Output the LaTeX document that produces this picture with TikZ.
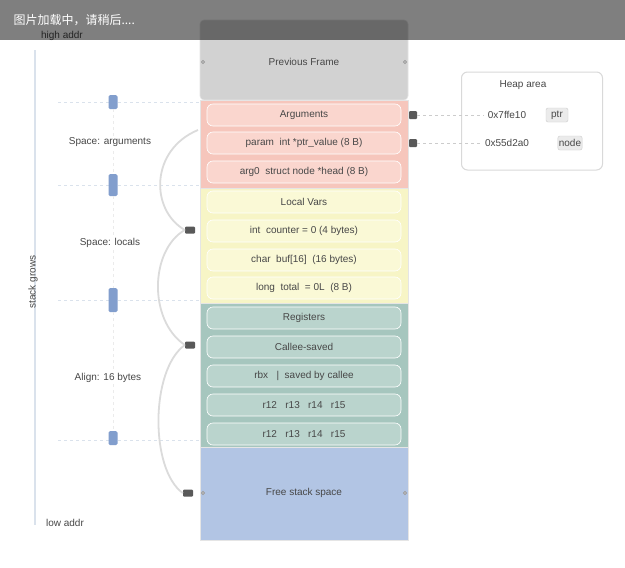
\documentclass[tikz,border=0pt]{standalone}
\usepackage{fontspec}
\setmainfont{Liberation Sans}
\newfontfamily\cjk{Noto Sans CJK SC}
\definecolor{cgray}{RGB}{210,210,210}
\definecolor{cred}{RGB}{246,198,188}
\definecolor{credrow}{RGB}{250,214,206}
\definecolor{cyel}{RGB}{247,245,198}
\definecolor{cyelrow}{RGB}{250,249,214}
\definecolor{cteal}{RGB}{166,198,190}
\definecolor{ctealrow}{RGB}{186,212,205}
\definecolor{cblue}{RGB}{178,197,228}
\definecolor{cmark}{RGB}{130,158,205}
\definecolor{caxis}{RGB}{218,226,236}
\begin{document}
\begin{tikzpicture}[x=1pt,y=-1pt,
  every node/.style={font=\fontsize{10}{12}\selectfont, text=black!72},
  sect/.style={draw=black!10, line width=0.6pt},
  rowbox/.style={rounded corners=6pt, minimum width=194pt, minimum height=22pt, draw=white!60, line width=0.6pt},
  dotm/.style={fill=black!65, rounded corners=1pt, minimum width=10pt, minimum height=7pt, inner sep=0pt},
  guide/.style={draw=caxis, dashed, line width=0.9pt},
  marker/.style={fill=cmark, rounded corners=1.5pt, minimum width=9pt, inner sep=0pt},
  curve/.style={draw=black!14, line width=1.8pt},
  link/.style={draw=black!20, dashed, line width=0.8pt},
  notch/.style={draw=black!40, fill=black!30, circle, inner sep=1.3pt}]
\useasboundingbox (0,0) rectangle (625,568);
\fill[white] (0,0) rectangle (625,568);
% column sections
\path[sect, fill=cgray, rounded corners=4pt] (200,20) rectangle (408,100);
\path[sect, fill=cred] (200,100) rectangle (408,188);
\path[sect, fill=cyel] (200,188) rectangle (408,303);
\path[sect, fill=cteal] (200,303) rectangle (408,447);
\path[sect, fill=cblue] (200,447) rectangle (408,540);
\node (g) at (304,62) {Previous Frame};
\node[notch] (gl) at (203,62) {};
\node[notch] (gr) at (405,62) {};
% red rows
\node[rowbox, fill=credrow] (r1) at (304,115) {Arguments};
\node[rowbox, fill=credrow] (r2) at (304,143) {param \ int *ptr\_value (8 B)};
\node[rowbox, fill=credrow] (r3) at (304,172) {arg0 \ struct node *head (8 B)};
% yellow rows
\node[rowbox, fill=cyelrow] (y1) at (304,202) {Local Vars};
\node[rowbox, fill=cyelrow] (y2) at (304,231) {int \ counter = 0 (4 bytes)};
\node[rowbox, fill=cyelrow] (y3) at (304,260) {char \ buf[16] \ (16 bytes)};
\node[rowbox, fill=cyelrow] (y4) at (304,288) {long \ total \ = 0L \ (8 B)};
% teal rows
\node[rowbox, fill=ctealrow] (t1) at (304,318) {Registers};
\node[rowbox, fill=ctealrow] (t2) at (304,347) {Callee-saved};
\node[rowbox, fill=ctealrow] (t3) at (304,376) {rbx \ \ | \ saved by callee};
\node[rowbox, fill=ctealrow] (t4) at (304,405) {r12 \ \ r13 \ \ r14 \ \ r15};
\node[rowbox, fill=ctealrow] (t5) at (304,434) {r12 \ \ r13 \ \ r14 \ \ r15};
% blue
\node (b) at (304,493) {Free stack space};
\node[notch] (bl) at (203,493) {};
\node[notch] (br) at (405,493) {};
% left axis
\coordinate (ax1) at (35,50);
\coordinate (ax2) at (35,525);
\draw[draw=caxis, line width=2.2pt] (ax1) -- (ax2);
\node[rotate=90] (axl) at (33,282) {stack grows};
\node (lo) at (65,523) {low addr};
\node (hi) at (62,36) {high addr};
% guides
\foreach \yy/\nm in {102/ga,185/gb,300/gc,440/gd}{
  \coordinate (\nm s) at (58,\yy);
  \coordinate (\nm e) at (200,\yy);
  \draw[guide] (\nm s) -- (\nm e);
}
\node[marker, minimum height=14pt] (m1) at (113,102) {};
\node[marker, minimum height=22pt] (m2) at (113,185) {};
\node[marker, minimum height=24pt] (m3) at (113,300) {};
\node[marker, minimum height=14pt] (m4) at (113,438) {};
\draw[draw=black!8, dashed] (m1) -- (m2);
\draw[draw=black!8, dashed] (m2) -- (m3);
\draw[draw=black!8, dashed] (m3) -- (m4);
% left labels
\node[fill=white, inner sep=1pt] (s1) at (110,142) {Space: arguments};
\node[fill=white, inner sep=1pt] (s2) at (110,243) {Space: locals};
\node[fill=white, inner sep=1pt] (s3) at (108,378) {Align: 16 bytes};
% curves
\node[dotm] (d1) at (190,230) {};
\node[dotm] (d2) at (190,345) {};
\node[dotm] (d3) at (188,493) {};
\coordinate (c0) at (198,130);
\draw[curve] (c0) .. controls (150,150) and (150,210) .. (d1.west);
\draw[curve] (d1.west) .. controls (150,250) and (148,320) .. (d2.west);
\draw[curve] (d2.west) .. controls (150,370) and (150,470) .. (d3.west);
% right panel
\node[draw=black!15, line width=1pt, rounded corners=6pt, minimum width=141pt, minimum height=98pt] (panel) at (532,121) {};
\node (pt) at (523,85) {Heap area};
\node (p1) at (507,115) {0x7ffe10};
\node (p2) at (507,143) {0x55d2a0};
\node[draw=black!20, fill=black!8, rounded corners=2pt, minimum width=22pt, minimum height=14pt, inner sep=1pt] (q1) at (557,115) {ptr};
\node[draw=black!20, fill=black!8, rounded corners=2pt, minimum width=22pt, minimum height=14pt, inner sep=1pt] (q2) at (570,143) {node};
\node[fill=black!65, minimum size=8pt, inner sep=0pt, rounded corners=1pt] (e1) at (413,115) {};
\node[fill=black!65, minimum size=8pt, inner sep=0pt, rounded corners=1pt] (e2) at (413,143) {};
\draw[link] (e1) -- (p1.west);
\draw[link] (e2) -- (p2.west);
% loading banner
\fill[black, opacity=0.5] (0,0) rectangle (625,40);
\node[anchor=west, text=white, font=\cjk\fontsize{12}{14}\selectfont] (banner) at (10,20) {图片加载中，请稍后....};
\end{tikzpicture}
\end{document}
